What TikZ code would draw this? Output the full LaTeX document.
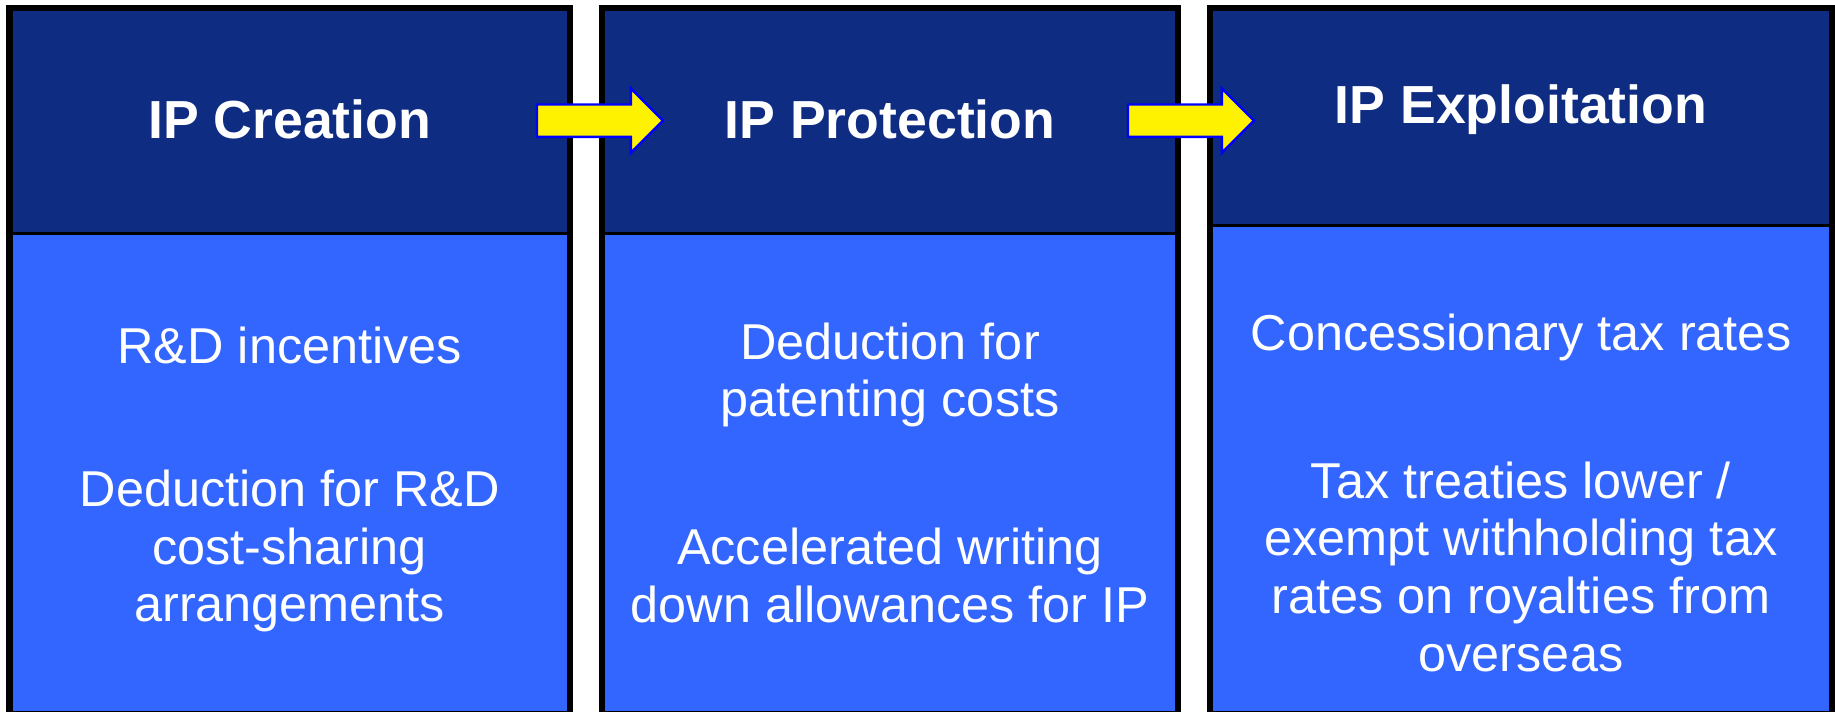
\documentclass[tikz,border=0pt]{standalone}
\usepackage{fontspec}
\setmainfont{Liberation Sans}
\usetikzlibrary{shapes.arrows}
\definecolor{headblue}{HTML}{0E2C82}
\definecolor{bodyblue}{HTML}{3366FF}
\tikzset{
  head/.style={fill=headblue, inner sep=0pt, outer sep=0pt, anchor=north},
  body/.style={fill=bodyblue, inner sep=0pt, outer sep=0pt, anchor=north},
  title/.style={text=white, font=\fontsize{13.4}{16}\selectfont\bfseries},
  item/.style={text=white, align=center, font=\fontsize{12.6}{14.4}\selectfont},
  frame/.style={draw=black, line width=1.5pt},
  divider/.style={draw=black, line width=0.75pt},
  flow/.style={single arrow, fill=yellow, draw=blue, line width=0.6pt,
    inner xsep=0pt, inner ysep=3.75pt, single arrow head extend=4pt,
    minimum height=31.5pt, anchor=tip}
}
\begin{document}
\begin{tikzpicture}[x=0.25pt, y=0.25pt]
  \useasboundingbox (0,0) rectangle (1835,712);
  % creation
  \node[head, minimum width=140.125pt, minimum height=56.375pt] (hc) at (289.75,703.5) {};
  \node[body, minimum width=140.125pt, minimum height=120pt] (bc) at (289.75,478) {};
  % protection
  \node[head, minimum width=144pt, minimum height=56.375pt] (hp) at (890,703.5) {};
  \node[body, minimum width=144pt, minimum height=120pt] (bp) at (890,478) {};
  % exploitation
  \node[head, minimum width=155.5pt, minimum height=54.25pt] (he) at (1521,703.5) {};
  \node[body, minimum width=155.5pt, minimum height=122.125pt] (be) at (1521,486.5) {};

  \draw[frame] (hc.north west) rectangle (bc.south east);
  \draw[divider] (hc.south west) -- (hc.south east);
  \draw[frame] (hp.north west) rectangle (bp.south east);
  \draw[divider] (hp.south west) -- (hp.south east);
  \draw[frame] (he.north west) rectangle (be.south east);
  \draw[divider] (he.south west) -- (he.south east);

  \node[title] (tc) at (289.75,593) {IP Creation};
  \node[title] (tp) at (890,593) {IP Protection};
  \node[title] (te) at (1521,602) {IP Exploitation};

  \node[item] (c1) at (289.75,366) {R\&D incentives};
  \node[item] (c2) at (289.75,161) {Deduction for R\&D\\cost-sharing\\arrangements};
  \node[item] (p1) at (890,337) {Deduction for\\patenting costs};
  \node[item] (p2) at (890,136.5) {Accelerated writing\\down allowances for IP};
  \node[item] (e1) at (1521,375) {Concessionary tax rates};
  \node[item] (e2) at (1521,145.25) {Tax treaties lower /\\exempt withholding tax\\rates on royalties from\\overseas};

  \node[flow] (a1) at (664.7,591.3) {};
  \node[flow] (a2) at (1255.7,591.3) {};
\end{tikzpicture}
\end{document}
